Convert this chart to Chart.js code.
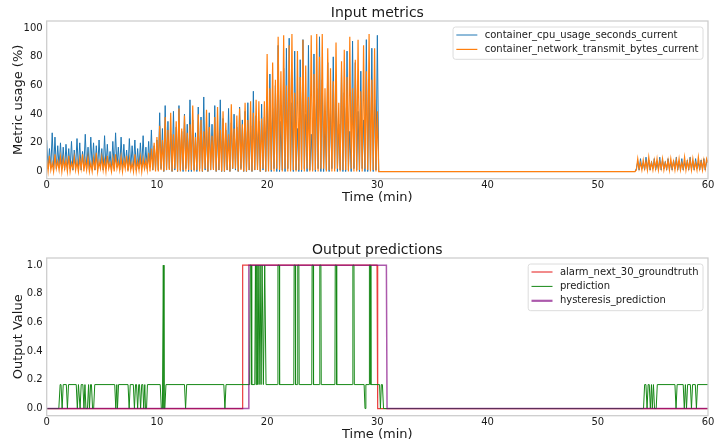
<!DOCTYPE html>
<html>
<head>
<meta charset="utf-8">
<script src="https://cdn.jsdelivr.net/npm/chart.js@4.4.1/dist/chart.umd.min.js"></script>
<style>
  html, body { margin: 0; padding: 0; background: #fff; }
  #wrap { position: relative; width: 716px; height: 441px; overflow: hidden; }
  canvas { position: absolute; left: 0; }
</style>
</head>
<body>
<div id="wrap">
  <canvas id="inputChart" width="716" height="210" style="top:0px"></canvas>
  <canvas id="outputChart" width="716" height="210" style="top:237px"></canvas>
</div>
<script>
'use strict'

// sampling of the metric series (minutes)
const STEP = 0.125;
const LATE_START = 53.375;

// 0 .. 30.25 min, one row per minute
const cpuEarly = [
  22, 2, 16, 3, 27, 1, 24, 2,
  18, 3, 20, 2, 17, 1, 19, 3,
  16, 2, 21, 1, 15, 3, 23, 2,
  20, 1, 14, 3, 26, 2, 17, 1,
  24, 3, 20, 1, 18, 2, 22, 3,
  16, 1, 25, 2, 19, 3, 14, 1,
  21, 2, 27, 3, 17, 1, 24, 2,
  19, 3, 15, 1, 23, 2, 18, 3,
  22, 1, 16, 2, 20, 3, 25, 1,
  17, 2, 21, 3, 29, 1, 18, 2,
  22, 1, 41, 2, 30, 0, 46, 1,
  35, 2, 26, 0, 42, 1, 31, 0,
  46, 1, 28, 0, 40, 2, 33, 0,
  50, 0, 36, 1, 27, 0, 45, 2,
  38, 0, 52, 1, 30, 0, 41, 1,
  33, 2, 46, 0, 28, 1, 50, 0,
  37, 0, 29, 1, 44, 0, 34, 2,
  40, 1, 31, 0, 45, 2, 36, 0,
  42, 0, 48, 1, 32, 0, 56, 1,
  39, 2, 35, 0, 47, 1, 38, 0,
  52, 1, 68, 0, 44, 2, 60, 0,
  88, 0, 35, 1, 72, 0, 86, 2,
  93, 1, 48, 0, 84, 1, 30, 0,
  78, 0, 92, 2, 40, 0, 88, 1,
  26, 1, 82, 0, 58, 2, 94, 0,
  64, 0, 38, 1, 76, 0, 45, 2,
  80, 2, 60, 0, 33, 1, 72, 0,
  55, 0, 84, 1, 28, 0, 91, 2,
  76, 1, 42, 0, 70, 2, 36, 0,
  92, 0, 58, 1, 86, 0, 50, 1,
  95, 0, 0
];
const netEarly = [
  8, 0, 11, 1, 6, 0, 12, 2,
  7, 1, 10, 0, 9, 2, 8, 0,
  11, 0, 6, 2, 10, 1, 7, 0,
  9, 2, 12, 0, 8, 1, 10, 0,
  6, 0, 9, 1, 13, 0, 7, 2,
  10, 1, 8, 0, 11, 2, 6, 0,
  9, 0, 12, 2, 7, 1, 10, 0,
  8, 2, 11, 0, 9, 1, 6, 0,
  12, 0, 7, 1, 10, 0, 9, 2,
  8, 1, 13, 0, 16, 1, 20, 0,
  24, 0, 32, 1, 22, 0, 38, 1,
  29, 1, 41, 0, 26, 2, 35, 0,
  44, 0, 30, 1, 39, 0, 27, 1,
  33, 1, 46, 0, 24, 1, 40, 0,
  36, 0, 28, 2, 43, 0, 31, 1,
  25, 1, 38, 0, 45, 1, 29, 0,
  42, 0, 34, 1, 26, 0, 47, 2,
  30, 2, 39, 0, 44, 1, 33, 0,
  48, 0, 36, 1, 49, 0, 41, 1,
  50, 1, 49, 0, 37, 2, 49, 0,
  82, 0, 58, 1, 76, 0, 64, 2,
  94, 1, 70, 0, 95, 2, 60, 0,
  88, 0, 96, 1, 55, 0, 84, 1,
  66, 1, 92, 0, 74, 2, 52, 0,
  95, 0, 68, 1, 96, 0, 80, 2,
  96, 2, 58, 0, 86, 1, 72, 0,
  63, 0, 90, 2, 48, 0, 77, 1,
  85, 1, 66, 0, 94, 2, 58, 0,
  78, 0, 92, 1, 56, 0, 88, 2,
  70, 1, 96, 0, 64, 1, 86, 0,
  42, 0, 0
];
// 53.375 .. 60 min
const cpuLate = [
  0, 2, 7, 1, 9, 2, 6, 1,
  10, 2, 8, 1, 7, 2, 9, 1,
  6, 2, 10, 1, 8, 2, 7, 1,
  9, 2, 6, 1, 8, 2, 10, 1,
  7, 2, 9, 1, 6, 2, 8, 1,
  10, 2, 7, 1, 9, 2, 6, 1,
  8, 2, 9, 1, 7, 8
];
const netLate = [
  0, 1, 9, 2, 6, 1, 8, 2,
  7, 1, 10, 2, 6, 1, 8, 2,
  9, 1, 7, 2, 9, 1, 6, 2,
  8, 1, 9, 2, 7, 1, 8, 2,
  9, 1, 6, 2, 10, 1, 7, 2,
  8, 1, 9, 2, 6, 1, 10, 2,
  7, 1, 8, 2, 9, 6
];

const truthTimes = [0, 17.72, 17.78, 29.97, 30.03, 60];
const truthValues = [0, 0, 1, 1, 0, 0];
const hystTimes = [0, 18.28, 18.34, 30.82, 30.88, 60];
const hystValues = [0, 0, 1, 1, 0, 0];

const predTimes = [
  0, 1.1, 1.22, 1.3, 1.4, 1.5, 1.78, 1.88, 1.98, 2.68, 2.78, 2.88, 2.93, 3.03, 3.13, 3.28, 3.38, 3.47, 3.56, 3.7, 3.8, 3.88, 3.98, 4.06, 4.16, 4.26, 4.36,
  6.17, 6.27, 6.36, 6.42, 6.52, 7.38, 7.48, 7.58, 7.86, 7.96, 8.06, 8.15, 8.25, 8.35, 8.42, 8.52, 8.62, 8.72, 8.8, 8.9, 8.96, 9.06, 9.14, 10.3, 10.4, 10.5, 10.58, 10.64, 10.72, 10.82,
  12.5, 12.6, 12.7, 16.07, 16.17, 16.27, 18.42, 18.47, 18.55, 18.6, 18.88, 18.94, 19.0, 19.06, 19.12, 19.18, 19.27, 19.36, 19.45, 19.54, 19.66, 19.78, 19.9,
  20.95, 20.98, 21.1, 21.13, 22.42, 22.45, 22.55, 22.58, 22.75, 22.78, 22.88, 22.91, 24.05, 24.08, 24.18, 24.21, 24.75, 24.78, 24.88, 24.91, 26.15, 26.18, 26.28, 26.31, 27.75, 27.78, 27.88, 27.91, 28.8, 28.88, 28.96, 29.25, 29.28, 29.38, 29.41, 30.2, 30.28, 30.36, 30.46, 30.56,
  54.15, 54.25, 54.37, 54.47, 54.57, 54.67, 54.77, 54.87, 54.95, 55.05, 55.15, 55.3, 55.4, 57.0, 57.1, 57.2, 57.75, 57.85, 57.95, 58.05, 58.15, 58.4, 58.5, 58.6, 58.85, 58.95, 59.05, 60
];
const predValues = [
  0, 0, 0.167, 0.167, 0, 0.167, 0.167, 0, 0.167, 0.167, 0, 0.167, 0.167, 0, 0.167, 0.167, 0, 0.167, 0, 0, 0.167, 0, 0.167, 0.167, 0, 0, 0.167,
  0.167, 0, 0.167, 0, 0.167, 0.167, 0, 0.167, 0.167, 0, 0.167, 0.167, 0, 0.167, 0.167, 0, 0.167, 0.167, 0, 0.167, 0, 0, 0.167, 0.167, 0, 0, 1, 0, 0, 0.167,
  0.167, 0, 0.167, 0.167, 0, 0.167, 0.167, 1, 1, 0.167, 0.167, 1, 0.167, 1, 0.167, 1, 0.167, 1, 0.167, 1, 0.167, 1, 0.167,
  0.167, 1, 1, 0.167, 0.167, 1, 1, 0.167, 0.167, 1, 1, 0.167, 0.167, 1, 1, 0.167, 0.167, 1, 1, 0.167, 0.167, 1, 1, 0.167, 0.167, 1, 1, 0.167, 0.167, 0, 0.167, 0.167, 1, 1, 0.167, 0.167, 0, 0.167, 0.167, 0,
  0, 0.167, 0.167, 0, 0.167, 0.167, 0, 0.167, 0, 0.167, 0, 0, 0.167, 0.167, 0, 0.167, 0.167, 0, 0.167, 0, 0.167, 0.167, 0, 0.167, 0.167, 0, 0.167, 0.167
];

const xTicks = [0, 10, 20, 30, 40, 50, 60];
const inputTicks = [0, 20, 40, 60, 80, 100];
const outputTicks = [0, 0.2, 0.4, 0.6, 0.8, 1.0];

const FONT = '"DejaVu Sans", sans-serif';
const INK = '#1a1a1a';
Chart.defaults.font.family = FONT;
Chart.defaults.color = INK;

function sampled(vals, start) {
  return vals.map((v, i) => ({x: start + i * STEP, y: v}));
}
function pairs(xs, ys) {
  return xs.map((x, i) => ({x: x, y: ys[i]}));
}

// light grey box around the plot area, like the matplotlib spines
const frame = {
  id: 'frame',
  afterDatasetsDraw(chart) {
    const {ctx, chartArea: a} = chart;
    ctx.save();
    ctx.strokeStyle = '#cccccc';
    ctx.lineWidth = 1.25;
    ctx.strokeRect(a.left, a.top, a.right - a.left, a.bottom - a.top);
    ctx.restore();
  }
};

// title centred over the plot area (not the canvas)
const axesTitle = {
  id: 'axesTitle',
  afterDraw(chart, args, opts) {
    const {ctx, chartArea: a} = chart;
    ctx.save();
    ctx.font = '14px ' + FONT;
    ctx.fillStyle = INK;
    ctx.textAlign = 'center';
    ctx.textBaseline = 'middle';
    ctx.fillText(opts.text, (a.left + a.right) / 2, a.top - 8);
    ctx.restore();
  }
};

// legend box in the upper right corner of the plot
const boxLegend = {
  id: 'boxLegend',
  afterDraw(chart) {
    const {ctx, chartArea: a} = chart;
    const sets = chart.data.datasets;
    ctx.save();
    ctx.font = '10px ' + FONT;
    const textW = Math.max(...sets.map(d => ctx.measureText(d.label).width));
    const w = 31.7 + textW + 4.5;
    const h = 3.5 + 14.4 * sets.length;
    const x = a.right - 5 - w;
    const y = a.top + 6;
    ctx.beginPath();
    if (ctx.roundRect) ctx.roundRect(x, y, w, h, 2.5); else ctx.rect(x, y, w, h);
    ctx.fillStyle = 'rgba(255,255,255,0.8)';
    ctx.fill();
    ctx.strokeStyle = '#dcdcdc';
    ctx.lineWidth = 1;
    ctx.stroke();
    sets.forEach((d, i) => {
      const cy = y + 8 + i * 14.4;
      ctx.strokeStyle = d.borderColor;
      ctx.lineWidth = d.legendWidth || d.borderWidth;
      ctx.beginPath();
      ctx.moveTo(x + 3.3, cy);
      ctx.lineTo(x + 24.3, cy);
      ctx.stroke();
      ctx.fillStyle = INK;
      ctx.textBaseline = 'middle';
      ctx.fillText(d.label, x + 31.7, cy);
    });
    ctx.restore();
  }
};

function makeChart(id, title, yLabel, yMin, yMax, yTicks, fmt, datasets) {
  return new Chart(document.getElementById(id), {
    type: 'line',
    data: {datasets: datasets},
    options: {
      responsive: false,
      animation: false,
      layout: {padding: {left: 0, right: 8, top: 21, bottom: 0}},
      elements: {point: {radius: 0}, line: {tension: 0}},
      plugins: {
        legend: {display: false},
        tooltip: {enabled: false},
        title: {display: false},
        axesTitle: {text: title}
      },
      scales: {
        x: {
          type: 'linear',
          min: 0,
          max: 60,
          afterBuildTicks: s => { s.ticks = xTicks.map(v => ({value: v})); },
          afterFit: s => { s.height = 31.3; s.paddingLeft = 0; s.paddingRight = 0; },
          grid: {display: false, drawTicks: false},
          border: {display: false},
          ticks: {font: {size: 10}, color: INK, padding: 1, maxRotation: 0, autoSkip: false},
          title: {display: true, text: 'Time (min)', color: INK, font: {size: 13}, padding: {top: 5, bottom: 5}}
        },
        y: {
          type: 'linear',
          min: yMin,
          max: yMax,
          afterBuildTicks: s => { s.ticks = yTicks.map(v => ({value: v})); },
          afterFit: s => { s.width = 46.7; },
          grid: {display: false, drawTicks: false},
          border: {display: false},
          ticks: {font: {size: 10}, color: INK, padding: 4, callback: fmt},
          title: {display: true, text: yLabel, color: INK, font: {size: 13}, padding: {top: 11, bottom: 11}}
        }
      }
    },
    plugins: [frame, axesTitle, boxLegend]
  });
}

makeChart('inputChart', 'Input metrics', 'Metric usage (%)', -5, 105, inputTicks, v => String(v), [
  {
    label: 'container_cpu_usage_seconds_current',
    data: sampled(cpuEarly, 0).concat(sampled(cpuLate, LATE_START)),
    borderColor: '#1f77b4',
    borderWidth: 1,
    order: 1
  },
  {
    label: 'container_network_transmit_bytes_current',
    data: sampled(netEarly, 0).concat(sampled(netLate, LATE_START)),
    borderColor: '#ff7f0e',
    borderWidth: 1.2,
    order: 0
  }
]);

makeChart('outputChart', 'Output predictions', 'Output Value', -0.05, 1.05, outputTicks, v => v.toFixed(1), [
  {
    label: 'alarm_next_30_groundtruth',
    data: pairs(truthTimes, truthValues),
    borderColor: 'rgba(232,40,40,0.9)',
    borderWidth: 1.2,
    order: 2
  },
  {
    label: 'prediction',
    data: pairs(predTimes, predValues),
    borderColor: '#168816',
    borderWidth: 1,
    order: 1
  },
  {
    label: 'hysteresis_prediction',
    data: pairs(hystTimes, hystValues),
    borderColor: 'rgba(128,0,128,0.65)',
    borderWidth: 1.5,
    legendWidth: 2.2,
    order: 0
  }
]);
</script>
</body>
</html>
